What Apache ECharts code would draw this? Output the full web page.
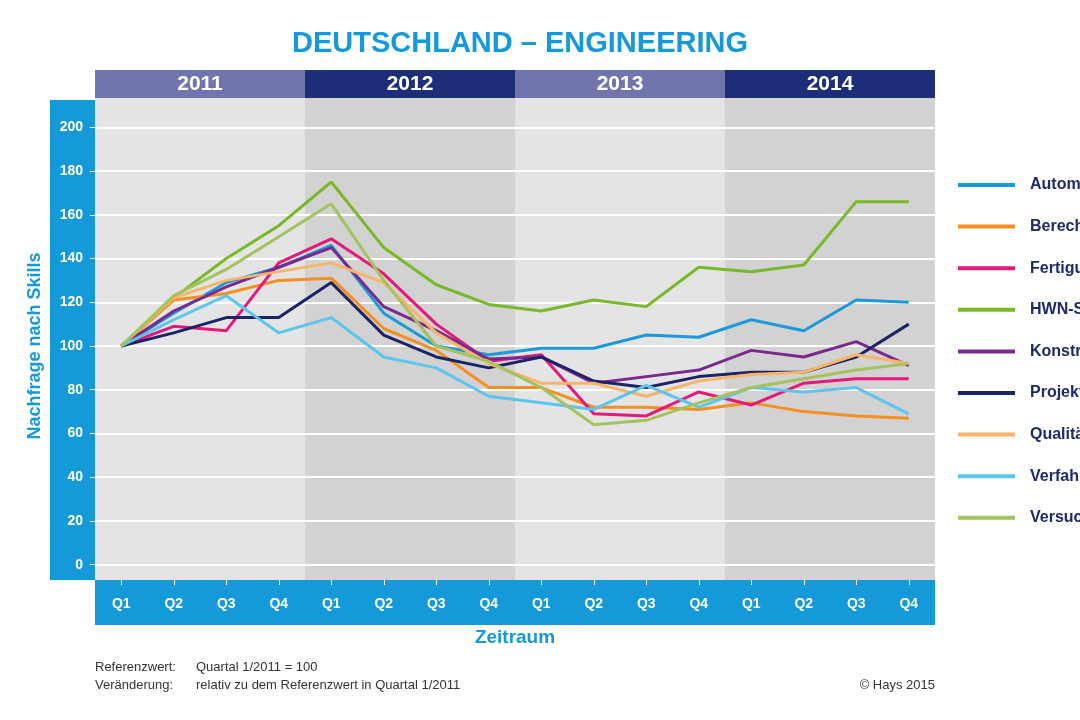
<!DOCTYPE html>
<html>
<head>
<meta charset="utf-8">
<title>Deutschland – Engineering</title>
<script src="https://cdn.jsdelivr.net/npm/echarts@6/dist/echarts.min.js"></script>
<style>
  html, body { margin: 0; padding: 0; background: #fff; }
  #chart { width: 1080px; height: 720px; }
</style>
</head>
<body>
<div id="chart"></div>
<script>
var quarters = ['Q1', 'Q2', 'Q3', 'Q4', 'Q1', 'Q2', 'Q3', 'Q4', 'Q1', 'Q2', 'Q3', 'Q4', 'Q1', 'Q2', 'Q3', 'Q4'];
var years = ['2011', '2012', '2013', '2014'];

var skillNames = ['Automatisierungstechnik', 'Berechnung', 'Fertigungstechnik', 'HWN-Spezialisten', 'Konstruktion',
  'Projektmanagement', 'Qualitätsmanagement', 'Verfahrenstechnik', 'Versuch / Test'];

var automatisierung = [100, 115, 129, 136, 146, 115, 100, 96, 99, 99, 105, 104, 112, 107, 121, 120];
var berechnung      = [100, 121, 124, 130, 131, 108, 98, 81, 81, 72, 72, 71, 74, 70, 68, 67];
var fertigung       = [100, 109, 107, 138, 149, 133, 110, 93, 96, 69, 68, 79, 73, 83, 85, 85];
var hwn             = [100, 122, 140, 155, 175, 145, 128, 119, 116, 121, 118, 136, 134, 137, 166, 166];
var konstruktion    = [100, 116, 127, 136, 145, 118, 107, 94, 95, 83, 86, 89, 98, 95, 102, 91];
var projekt         = [100, 106, 113, 113, 129, 105, 95, 90, 95, 84, 81, 86, 88, 88, 95, 110];
var qualitaet       = [100, 122, 130, 134, 138, 129, 106, 92, 83, 83, 77, 84, 87, 88, 96, 92];
var verfahren       = [100, 112, 123, 106, 113, 95, 90, 77, 74, 71, 82, 72, 81, 79, 81, 69];
var versuch         = [100, 123, 135, 150, 165, 130, 100, 93, 81, 64, 66, 74, 81, 85, 89, 92];

var seriesData = [automatisierung, berechnung, fertigung, hwn, konstruktion, projekt, qualitaet, verfahren, versuch];
var lineColors = ['#1b9ad6', '#f39020', '#e5197b', '#79b829', '#7a2a8c', '#1c2466', '#f7b56a', '#5cc5ee', '#a4c25e'];

var blue = '#1599d8';
var font = '"Liberation Sans", Arial, sans-serif';

var chart = echarts.init(document.getElementById('chart'));
var option;

var series = skillNames.map(function (name, i) {
  return {
    name: name,
    type: 'line',
    xAxisIndex: 0,
    yAxisIndex: 0,
    data: seriesData[i],
    symbol: 'none',
    lineStyle: { width: 3, color: lineColors[i] },
    itemStyle: { color: lineColors[i] },
    z: 3
  };
});

// footer text lines, drawn with the graphic component
function footText(x, y, text, align) {
  return {
    type: 'text', x: x, y: y, silent: true,
    style: { text: text, fill: '#333', font: '13px ' + font, textAlign: align || 'left', textVerticalAlign: 'middle' }
  };
}

option = {
  animation: false,
  textStyle: { fontFamily: font },
  title: {
    text: 'DEUTSCHLAND – ENGINEERING',
    left: 515,
    top: 24,
    textAlign: 'center',
    textStyle: { color: blue, fontSize: 29, fontWeight: 'bold', fontFamily: font }
  },
  legend: {
    orient: 'vertical',
    left: 953,
    top: 172,
    icon: 'rect',
    itemWidth: 57,
    itemHeight: 4,
    itemGap: 25.6,
    data: skillNames,
    textStyle: { color: '#1d2a6b', fontSize: 16, fontWeight: 'bold', lineHeight: 14, padding: [0, 0, 0, 10] }
  },
  grid: [
    { left: 95, right: 145, top: 127.3, bottom: 155.3 },
    { left: 95, right: 145, top: 98, bottom: 140 }
  ],
  xAxis: [
    {
      gridIndex: 0,
      type: 'category',
      data: quarters,
      boundaryGap: true,
      axisLine: { show: false },
      axisTick: { show: false },
      axisLabel: { show: false },
      splitLine: { show: false }
    },
    {
      gridIndex: 1,
      type: 'category',
      data: quarters,
      position: 'bottom',
      boundaryGap: true,
      axisLine: { show: false },
      axisTick: { show: true, alignWithLabel: true, length: 5, lineStyle: { color: '#fff', width: 1 } },
      axisLabel: { interval: 0, color: '#fff', fontSize: 14, fontWeight: 'bold', margin: 17 },
      splitLine: { show: false },
      name: 'Zeitraum',
      nameLocation: 'middle',
      nameGap: 48,
      nameTextStyle: { color: blue, fontSize: 19, fontWeight: 'bold' }
    },
    {
      gridIndex: 1,
      type: 'category',
      data: years,
      position: 'top',
      boundaryGap: true,
      z: -1,
      axisLine: { show: false },
      axisTick: { show: false },
      splitLine: { show: false },
      splitArea: { show: true, interval: 0, areaStyle: { color: ['#e4e4e4', '#d2d2d2'] } },
      axisLabel: {
        interval: 0,
        margin: 0,
        formatter: function (value, index) {
          return index % 2 ? '{dark|' + value + '}' : '{light|' + value + '}';
        },
        rich: {
          light: { width: 210, height: 28, lineHeight: 28, align: 'center', backgroundColor: '#7274ad',
            color: '#fff', fontSize: 21, fontWeight: 'bold' },
          dark: { width: 210, height: 28, lineHeight: 28, align: 'center', backgroundColor: '#1e2d77',
            color: '#fff', fontSize: 21, fontWeight: 'bold' }
        }
      }
    }
  ],
  yAxis: [
    {
      gridIndex: 0,
      type: 'value',
      min: 0,
      max: 200,
      interval: 20,
      axisLine: { show: false },
      axisTick: { show: true, length: 5, lineStyle: { color: '#fff', width: 1 } },
      axisLabel: { color: '#fff', fontSize: 14, fontWeight: 'bold', margin: 12 },
      splitLine: { lineStyle: { color: '#fff', width: 2 } },
      name: 'Nachfrage nach Skills',
      nameLocation: 'middle',
      nameGap: 51,
      nameTextStyle: { color: blue, fontSize: 18, fontWeight: 'bold' }
    },
    {
      gridIndex: 1,
      type: 'value',
      show: false
    }
  ],
  graphic: [
    { type: 'rect', z: -10, silent: true, shape: { x: 50, y: 100, width: 45, height: 480 }, style: { fill: blue } },
    { type: 'rect', z: -10, silent: true, shape: { x: 95, y: 580, width: 840, height: 45 }, style: { fill: blue } },
    footText(95, 667, 'Referenzwert:'),
    footText(196, 667, 'Quartal 1/2011 = 100'),
    footText(95, 685, 'Veränderung:'),
    footText(196, 685, 'relativ zu dem Referenzwert in Quartal 1/2011'),
    footText(935, 685, '© Hays 2015', 'right')
  ],
  series: series
};

option && chart.setOption(option);
</script>
</body>
</html>
